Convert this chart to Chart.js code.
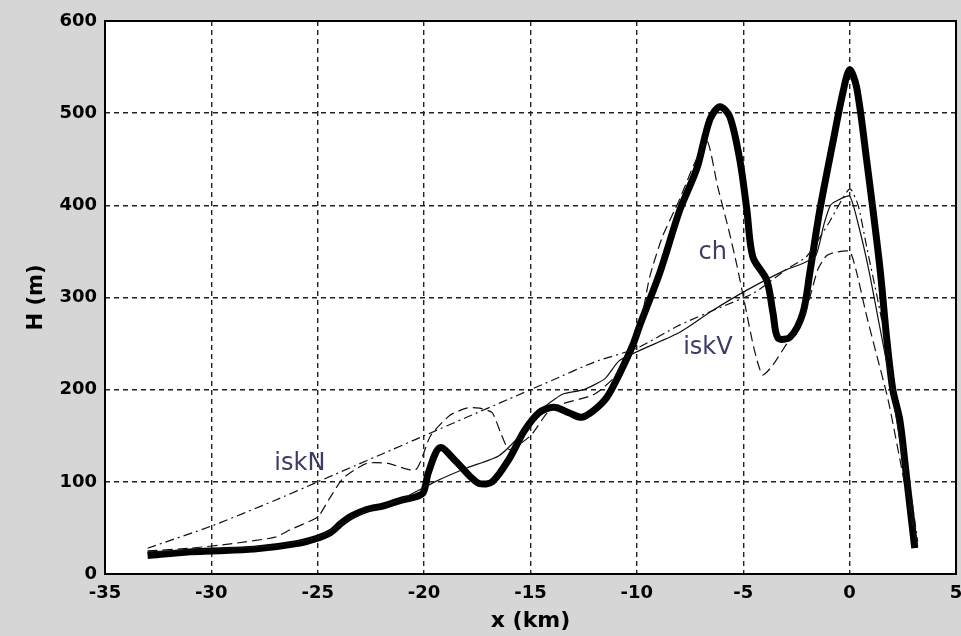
<!DOCTYPE html>
<html>
<head>
<meta charset="utf-8">
<script src="https://cdn.jsdelivr.net/npm/chart.js@4.4.0/dist/chart.umd.min.js"></script>
<style>
  html, body { margin: 0; padding: 0; background: #d6d6d6; }
  #wrap { width: 961px; height: 636px; }
</style>
</head>
<body>
<div id="wrap"><canvas id="profileChart" width="961" height="636"></canvas></div>
<script>
// measured profile (thick line)
const measX = [-33, -31, -30, -28, -26, -25, -24.4, -23.9, -23.4, -22.7, -21.9, -21.1, -20.5, -20.05, -19.8, -19.26, -18.5, -17.8, -17.4, -16.8, -16, -15.3, -14.6, -13.9, -13.2, -12.6, -12, -11.4, -10.8, -10.2, -9.86, -8.92, -7.98, -7.18, -6.57, -6.1, -5.63, -5.16, -4.83, -4.55, -3.9, -3.6, -3.37, -2.8, -2.2, -1.87, -1.4, -0.79, -0.32, 0, 0.33, 0.8, 1.42, 1.75, 2.03, 2.36, 2.69, 3.06]
const measY = [20, 24, 25, 27, 33, 39, 45, 55, 63, 70, 74, 80, 83, 88, 110, 137, 122, 105, 98, 100, 125, 155, 175, 181, 175, 170, 178, 192, 218, 248, 270, 327, 395, 440, 493, 507, 496, 449, 395, 344, 319, 283, 256, 257, 283, 327, 395, 468, 522, 547, 528, 449, 333, 254, 200, 167, 102, 28]

// ch (long dash)
const chX = [-33, -31, -29, -27, -26.3, -25, -24.5, -23.8, -22.7, -21.7, -20.4, -19.7, -18.8, -18, -17.4, -16.8, -16.4, -16, -15, -14, -12, -11, -10, -9.4, -8.8, -8, -7.3, -6.7, -6.2, -5.7, -5.3, -4.9, -4.5, -4.1, -3.66, -2.95, -2.2, -1.5, -1.1, -0.7, 0, 0.3, 0.8, 1.3, 1.8, 2.4, 2.9, 3.2]
const chY = [25, 28, 33, 40, 48, 62, 80, 104, 120, 120, 113, 150, 172, 180, 180, 175, 153, 135, 150, 180, 195, 215, 255, 322, 366, 406, 445, 470, 420, 375, 335, 290, 245, 216, 225, 250, 275, 330, 345, 349, 350, 330, 280, 235, 190, 120, 60, 30]

// iskN (dash-dot)
const iskNX = [-33, -30, -27, -25, -22, -20, -18, -16, -14, -12, -10, -8, -6, -4.5, -3, -2, -1, 0, 0.4, 0.8, 1.3, 1.8, 2.3, 2.8, 3.2]
const iskNY = [28, 52, 80, 100, 130, 150, 170, 190, 210, 230, 245, 270, 290, 305, 330, 345, 380, 418, 400, 355, 300, 240, 170, 100, 35]

// iskV (thin solid)
const iskVX = [-33, -30, -27, -25, -23, -21, -19.5, -18, -16.5, -15.5, -14.5, -13.5, -12.5, -11.5, -10.8, -8, -6.5, -4.83, -3, -2.3, -1.6, -1.2, -0.9, -0.6, 0, 0.4, 0.9, 1.4, 1.9, 2.4, 2.9, 3.2]
const iskVY = [24, 27, 31, 40, 65, 82, 100, 115, 128, 150, 178, 195, 200, 212, 232, 262, 285, 308, 330, 336, 345, 380, 400, 405, 410, 380, 330, 270, 210, 140, 70, 30]

const xTicks = [-35, -30, -25, -20, -15, -10, -5, 0, 5]
const yTicks = [0, 100, 200, 300, 400, 500, 600]

// text labels next to the curves: [text, x, y]
const curveLabels = [['iskN', -25.84, 120], ['ch', -6.43, 349], ['iskV', -6.66, 246]]

function pts(xs, ys) {
  return xs.map((x, i) => ({ x: x, y: ys[i] }))
}

const framePlugin = {
  id: 'frame',
  beforeDraw(chart) {
    const c = chart.ctx
    const a = chart.chartArea
    c.save()
    c.fillStyle = '#d6d6d6'
    c.fillRect(0, 0, chart.width, chart.height)
    c.fillStyle = '#ffffff'
    c.fillRect(a.left, a.top, a.right - a.left, a.bottom - a.top)
    c.restore()
  },
  afterDraw(chart) {
    const c = chart.ctx
    const a = chart.chartArea
    const xs = chart.scales.x
    const ys = chart.scales.y
    c.save()
    c.strokeStyle = '#000'
    c.lineWidth = 2
    c.strokeRect(a.left, a.top, a.right - a.left, a.bottom - a.top)
    c.font = '24px "DejaVu Sans"'
    c.fillStyle = '#3c3c64'
    c.textAlign = 'center'
    c.textBaseline = 'middle'
    curveLabels.forEach(l => {
      c.fillText(l[0], xs.getPixelForValue(l[1]), ys.getPixelForValue(l[2]))
    })
    c.restore()
  }
}

const thin = { showLine: true, pointRadius: 0, borderColor: '#111', borderWidth: 1.2, fill: false, tension: 0.2 }

new Chart(document.getElementById('profileChart'), {
  type: 'scatter',
  data: {
    datasets: [
      Object.assign({ label: 'iskN', data: pts(iskNX, iskNY), borderDash: [9, 4, 2, 4] }, thin),
      Object.assign({ label: 'ch', data: pts(chX, chY), borderDash: [10, 5] }, thin),
      Object.assign({ label: 'iskV', data: pts(iskVX, iskVY) }, thin),
      { label: 'measured', data: pts(measX, measY), showLine: true, pointRadius: 0, borderColor: '#000', borderWidth: 7, tension: 0.3, fill: false }
    ]
  },
  options: {
    responsive: false,
    animation: false,
    layout: { padding: { left: 22, right: 5, top: 21, bottom: 0 } },
    plugins: { legend: { display: false }, tooltip: { enabled: false } },
    scales: {
      x: {
        type: 'linear', min: -35, max: 5,
        afterBuildTicks(s) { s.ticks = xTicks.map(v => ({ value: v })) },
        afterFit(s) { s.height = 62; s.paddingLeft = 0; s.paddingRight = 0 },
        grid: { color: '#222', lineWidth: 1.4, drawTicks: false },
        border: { display: false, dash: [5, 4] },
        ticks: { color: '#000', padding: 9, maxRotation: 0, font: { family: 'DejaVu Sans', size: 18, weight: 'bold' } },
        title: { display: true, text: 'x (km)', color: '#000', font: { family: 'DejaVu Sans', size: 22, weight: 'bold', lineHeight: 1 } }
      },
      y: {
        type: 'linear', min: 0, max: 600,
        afterBuildTicks(s) { s.ticks = yTicks.map(v => ({ value: v })) },
        afterFit(s) { s.width = 83; s.paddingTop = 0; s.paddingBottom = 0 },
        grid: { color: '#222', lineWidth: 1.4, drawTicks: false },
        border: { display: false, dash: [5, 4] },
        ticks: { color: '#000', padding: 8, font: { family: 'DejaVu Sans', size: 18, weight: 'bold' } },
        title: { display: true, text: 'H (m)', color: '#000', font: { family: 'DejaVu Sans', size: 21, weight: 'bold', lineHeight: 1 } }
      }
    }
  },
  plugins: [framePlugin]
})
</script>
</body>
</html>
